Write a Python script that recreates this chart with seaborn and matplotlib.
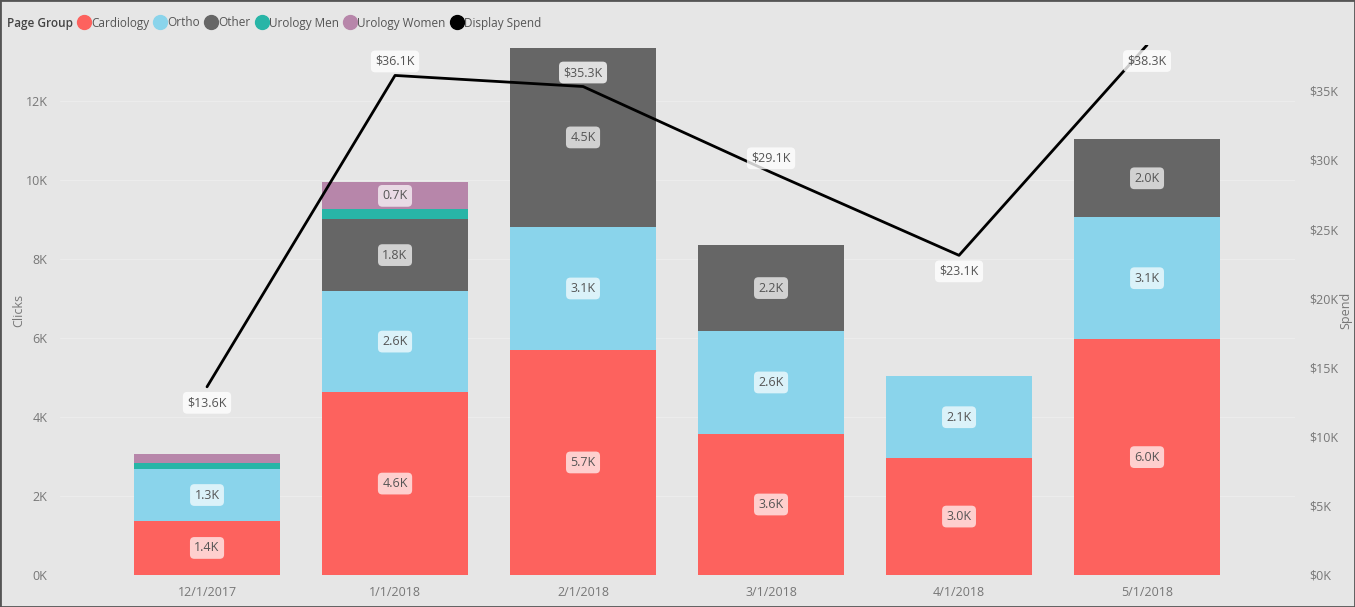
import numpy as np
import pandas as pd
import seaborn as sns
import matplotlib.pyplot as plt
from matplotlib.lines import Line2D
from matplotlib.patches import Rectangle
from matplotlib.ticker import FuncFormatter

# values (clicks, spend)
dates = ['12/1/2017', '1/1/2018', '2/1/2018', '3/1/2018', '4/1/2018', '5/1/2018']
cardiology = [1370, 4630, 5700, 3570, 2960, 5970]
ortho = [1310, 2560, 3110, 2610, 2070, 3090]
other = [0, 1820, 4540, 2170, 0, 1970]
urology_men = [150, 250, 0, 0, 0, 0]
urology_women = [230, 680, 0, 0, 0, 0]
spend = [13600, 36100, 35300, 29100, 23100, 38300]

groups = ['Cardiology', 'Ortho', 'Other', 'Urology Men', 'Urology Women']
colors = ['#FD625E', '#8AD4EB', '#666666', '#28B5A7', '#B786AA']

bg = '#e6e6e6'
txt = '#777777'

sns.set_theme(style='white', rc={'axes.facecolor': bg, 'figure.facecolor': bg})
plt.rcParams['font.family'] = ['Open Sans', 'DejaVu Sans']

fig = plt.figure(figsize=(13.55, 6.07), dpi=100)
W, H = 1355, 607
ax = fig.add_axes([60 / W, 32 / H, 1235 / W, 530 / H])

df = pd.DataFrame({'date': dates, 'Cardiology': cardiology, 'Ortho': ortho,
                   'Other': other, 'Urology Men': urology_men,
                   'Urology Women': urology_women})

bottom = np.zeros(len(dates))
for g, c in zip(groups, colors):
    vals = df[g].values
    sns.barplot(x=df['date'], y=vals, bottom=bottom, color=c, width=0.78,
                saturation=1, linewidth=0, ax=ax, zorder=2)
    for i, v in enumerate(vals):
        if v >= 500:
            ax.text(i, bottom[i] + v / 2, f'{v / 1000:.1f}K', ha='center', va='center',
                    fontsize=9, color='#555555', zorder=5,
                    bbox=dict(boxstyle='round,pad=0.35,rounding_size=0.35',
                              fc='white', ec='none', alpha=0.7))
    bottom = bottom + vals

ax.set_xlim(-0.782, 5.787)
ax.set_ylim(0, 13420)
ax.set_yticks(np.arange(0, 12001, 2000))
ax.yaxis.set_major_formatter(FuncFormatter(lambda v, p: f'{v / 1000:.0f}K'))
ax.grid(axis='y', color='#ececec', lw=0.8, zorder=0)
ax.set_axisbelow(True)
ax.set_xlabel('')
ax.set_ylabel('Clicks', color=txt, fontsize=9)
ax.yaxis.set_label_coords(-35 / 1235, 0.5)
ax.tick_params(axis='both', length=0, labelsize=9, labelcolor=txt)
ax.tick_params(axis='x', pad=8)
ax.tick_params(axis='y', pad=9)
for s in ax.spines.values():
    s.set_visible(False)

ax2 = ax.twinx()
pos = np.arange(len(dates))
sns.lineplot(x=pos, y=spend, color='black', lw=2, ax=ax2, zorder=4)
ax2.set_ylim(0, 38300)
ax2.set_yticks(np.arange(0, 35001, 5000))
ax2.yaxis.set_major_formatter(FuncFormatter(lambda v, p: f'${v / 1000:.0f}K'))
ax2.set_ylabel('Spend', color=txt, fontsize=9)
ax2.yaxis.set_label_coords(1 + 44 / 1235, 0.5)
ax2.tick_params(axis='y', length=0, labelsize=9, labelcolor=txt, pad=10)
for s in ax2.spines.values():
    s.set_visible(False)

ymax2 = ax2.get_ylim()[1]
for i, v in enumerate(spend):
    nb = [spend[j] for j in (i - 1, i + 1) if 0 <= j < len(spend)]
    below = v < min(nb) or v > 0.97 * ymax2
    ax2.annotate(f'${v / 1000:.1f}K', (i, v), xytext=(0, -16 if below else 14),
                 textcoords='offset pixels',
                 ha='center', va='center', fontsize=9, color='#555555', zorder=6,
                 bbox=dict(boxstyle='round,pad=0.35,rounding_size=0.35',
                           fc='white', ec='none', alpha=0.8))

# legend
fig.text(7 / W, 1 - 23 / H, 'Page Group', fontsize=8.5, color='#444444',
         fontweight='semibold', va='center')
handles = [Line2D([], [], marker='o', ls='', ms=10, mfc=c, mec=c) for c in colors]
handles.append(Line2D([], [], marker='o', ls='', ms=10, mfc='black', mec='black'))
fig.legend(handles, groups + ['Display Spend'], ncol=6, frameon=False,
           loc='center left', bbox_to_anchor=(72 / W, 1 - 23 / H),
           fontsize=8.5, labelcolor='#555555', handletextpad=0.0,
           columnspacing=0.35, handlelength=1.2, borderaxespad=0)

fig.patches.append(Rectangle((0, 0), 1, 1, transform=fig.transFigure, fill=False,
                             ec='#555555', lw=2))

fig.savefig('out.png', dpi=100, facecolor=bg)
